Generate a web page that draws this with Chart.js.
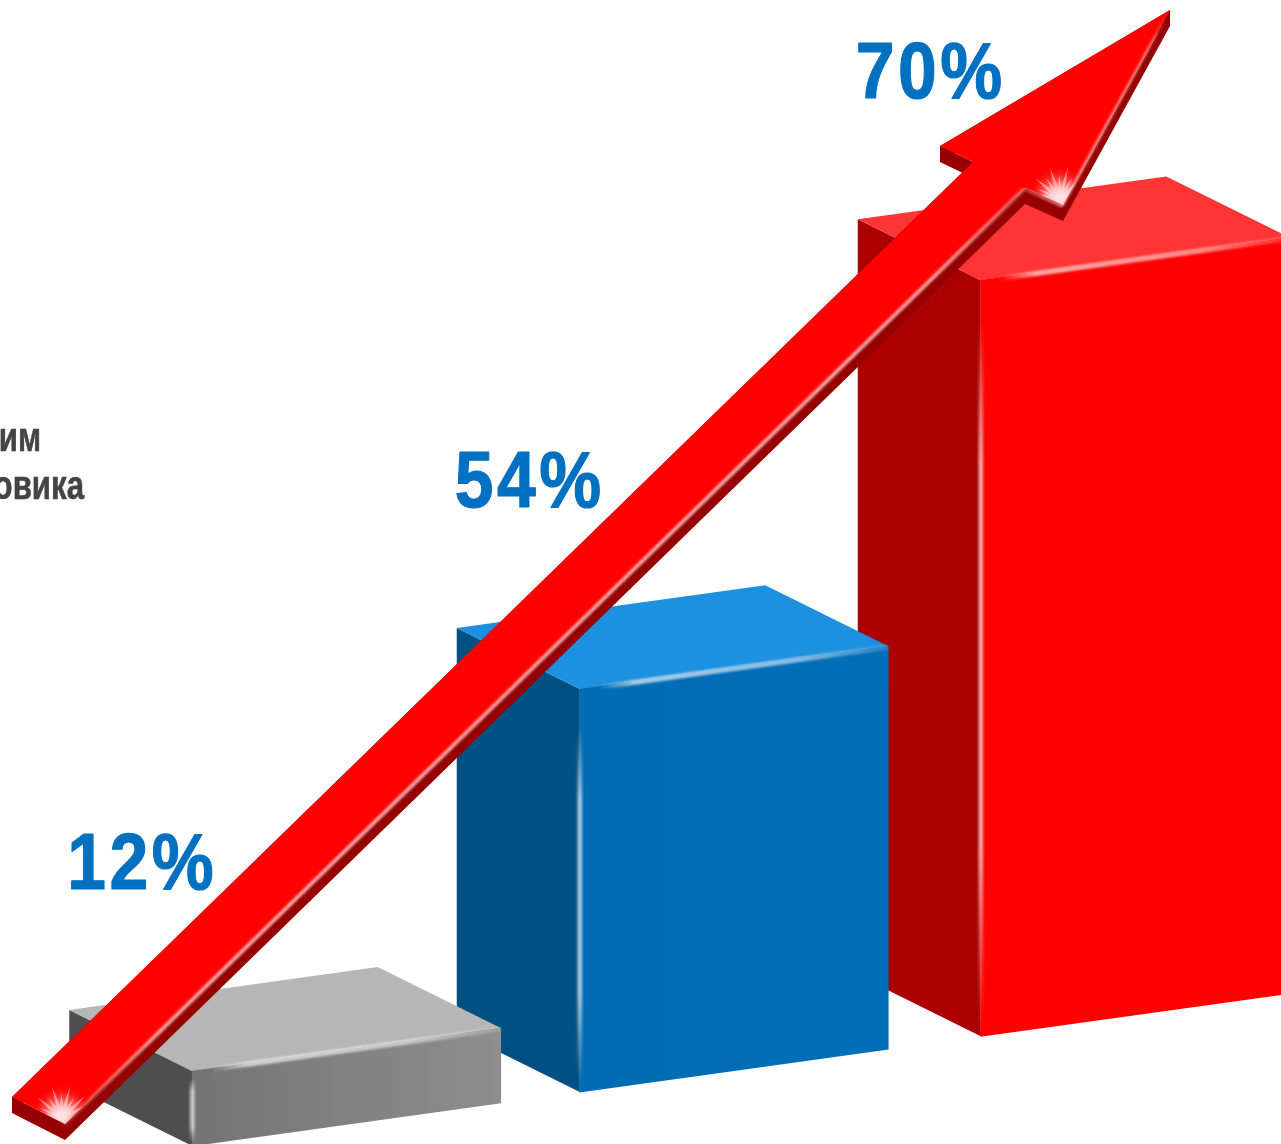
<!DOCTYPE html>
<html><head><meta charset="utf-8">
<style>html,body{margin:0;padding:0;background:#fff;overflow:hidden}canvas{display:block;filter:blur(.5px)}</style>
<script src="https://cdn.jsdelivr.net/npm/chart.js@4"></script>
</head><body><canvas id="c" width="1281" height="1144"></canvas>
<script>
// Data
const percentLabels = ['12%', '54%', '70%'];
const barCenters = [346.5, 734, 1135];
const barHeights = [75, 403, 756];
const noteLines = ['им', 'овика'];
// Arrow outline in axis units
const arrowX = [12, 973, 940, 1170, 1063, 1025, 65];
const arrowY = [47, 982, 998, 1134, 939, 956, 20];

// Styles
const frontColors = [['#747474', '#8e8e8e'], ['#006cb4', '#006eb8'], ['#ff0000', '#ff0000']];
const sideColors = ['#4e4e4e', '#005083', '#aa0000'];
const topColors = ['#b6b6b6', '#1d90e0', '#ff3535'];
const SKEW = -0.139, SKEW_X = 206, DEPTH_X = -123, DEPTH_Y = -61, ARROW_DEPTH = 16;

const scr = (x, y) => [x, y + SKEW * (x - SKEW_X)];
function poly(ctx, pts) { ctx.beginPath(); pts.forEach((p, i) => i ? ctx.lineTo(p[0], p[1]) : ctx.moveTo(p[0], p[1])); ctx.closePath(); }
function glow(ctx, a, b, w, stops, rgb) {
  const g = ctx.createLinearGradient(a[0], a[1], b[0], b[1]);
  stops.forEach(s => g.addColorStop(s[0], `rgba(${rgb},${s[1]})`));
  ctx.save(); ctx.strokeStyle = g; ctx.lineWidth = w; ctx.lineCap = 'butt'; ctx.filter = 'blur(1px)';
  ctx.beginPath(); ctx.moveTo(a[0], a[1]); ctx.lineTo(b[0], b[1]); ctx.stroke(); ctx.restore();
}
function narrowText(ctx, text, x, y, sx, weight, spacing) {
  ctx.save(); ctx.translate(x, y); ctx.scale(sx, 1);
  ctx.letterSpacing = spacing;
  ctx.lineWidth = weight; ctx.lineJoin = 'round'; ctx.strokeStyle = ctx.fillStyle;
  ctx.strokeText(text, 0, 0); ctx.fillText(text, 0, 0); ctx.restore();
}
const depth = p => [p[0] + DEPTH_X, p[1] + DEPTH_Y];

const box3d = {
  id: 'box3d',
  beforeDatasetDraw(chart, args) {
    const ctx = chart.ctx, ds = chart.data.datasets[args.index];
    if (ds.barIndex === undefined) return;
    const el = args.meta.data[0], i = ds.barIndex;
    const L = el.x - el.width / 2, R = el.x + el.width / 2;
    const tl = scr(L, el.y), tr = scr(R, el.y), bl = scr(L, el.base);
    ctx.fillStyle = sideColors[i];
    poly(ctx, [tl, bl, depth(bl), depth(tl)]); ctx.fill();
    ctx.fillStyle = topColors[i];
    poly(ctx, [tl, tr, depth(tr), depth(tl)]); ctx.fill();
    ctx.save();
    ctx.transform(1, SKEW, 0, 1, 0, -SKEW * SKEW_X);
  },
  afterDatasetDraw(chart, args) {
    const ctx = chart.ctx, ds = chart.data.datasets[args.index];
    if (ds.barIndex !== undefined) {
      ctx.restore();
      const el = args.meta.data[0];
      const L = el.x - el.width / 2, R = el.x + el.width / 2;
      const tl = scr(L, el.y), tr = scr(R, el.y), bl = scr(L, el.base);
      glow(ctx, [tl[0], tl[1] + 1], [tr[0], tr[1] + 1], 5,
        [[0, 0], [0.06, 0], [0.18, .65], [0.7, .55], [1, .15]], '255,255,255');
      const h = bl[1] - tl[1];
      glow(ctx, [L, tl[1] + Math.min(h * .1, 40)], [L, bl[1] - Math.min(h * .05, 10)], 5,
        [[0, 0], [0.2, .6], [0.75, .6], [1, 0]], '255,255,255');
      return;
    }
    if (ds.isArrow) drawArrow(ctx, args.meta.data.map(p => [p.x, p.y]));
  },
  afterDatasetsDraw(chart) {
    const ctx = chart.ctx;
    ctx.textBaseline = 'alphabetic';
    chart.data.datasets.forEach((ds, di) => {
      if (ds.barIndex === undefined) return;
      const el = chart.getDatasetMeta(di).data[0];
      const b = depth(scr(el.x - el.width / 2, el.y));
      ctx.fillStyle = '#0070c0';
      ctx.font = 'bold 80px "Liberation Sans",sans-serif';
      ctx.textAlign = 'left';
      narrowText(ctx, percentLabels[ds.barIndex], b[0] - 2, b[1] - 121, 0.87, 1.2, '4px');
    });
    const xs = chart.scales.x, ys = chart.scales.y;
    ctx.fillStyle = '#444444';
    ctx.font = 'bold 40px "Liberation Sans",sans-serif';
    ctx.textAlign = 'right';
    narrowText(ctx, noteLines[0], xs.getPixelForValue(41), ys.getPixelForValue(693), 0.78, 0.6, '0px');
    narrowText(ctx, noteLines[1], xs.getPixelForValue(84), ys.getPixelForValue(645), 0.78, 0.6, '0px');
  }
};

function drawArrow(ctx, pts) {
  const down = p => [p[0], p[1] + ARROW_DEPTH];
  ctx.fillStyle = '#960000';
  pts.forEach((p, i) => {
    const q = pts[(i + 1) % pts.length];
    poly(ctx, [p, q, down(q), down(p)]); ctx.fill();
  });
  poly(ctx, pts); ctx.fillStyle = '#ff0000'; ctx.fill();
  const inset = (p) => [p[0] - 1, p[1] + 1];
  glow(ctx, inset(pts[6]), inset(pts[5]), 4, [[0, .2], [.1, .75], [.9, .75], [1, .4]], '255,205,205');
  glow(ctx, inset(pts[4]), inset(pts[3]), 3, [[0, .7], [.8, .5], [1, 0]], '255,205,205');
  glow(ctx, inset(pts[5]), inset(pts[4]), 3, [[0, .3], [1, .7]], '255,205,205');
  ctx.save(); poly(ctx, pts); ctx.clip();
  [pts[6], pts[4]].forEach((c) => {
    const cx = c[0] - 3, cy = c[1] - 6, r = 34;
    const g = ctx.createRadialGradient(cx, cy, 2, cx, cy, r);
    g.addColorStop(0, 'rgba(255,235,235,.95)');
    g.addColorStop(.4, 'rgba(255,190,190,.65)');
    g.addColorStop(1, 'rgba(255,0,0,0)');
    ctx.fillStyle = g; ctx.fillRect(cx - r, cy - r, r * 2, r * 2);
    ctx.fillStyle = 'rgba(255,225,225,.55)';
    for (let a = -3.0; a < -0.2; a += 0.28) {
      const len = r * (Math.round((a + 3) / 0.28) % 2 ? 0.72 : 0.95);
      poly(ctx, [[cx + 3 * Math.cos(a + 1.57), cy + 3 * Math.sin(a + 1.57)],
                 [cx + len * Math.cos(a), cy + len * Math.sin(a)],
                 [cx - 3 * Math.cos(a + 1.57), cy - 3 * Math.sin(a + 1.57)]]);
      ctx.fill();
    }
  });
  ctx.restore();
}

const frontFill = i => c => {
  const xs = c.chart.scales.x;
  const a = xs ? xs.getPixelForValue(barCenters[i] - 154) : NaN;
  const b = xs ? xs.getPixelForValue(barCenters[i] + 154) : NaN;
  if (!Number.isFinite(a) || !Number.isFinite(b)) return frontColors[i][0];
  const g = c.chart.ctx.createLinearGradient(a, 0, b, 0);
  g.addColorStop(0, frontColors[i][0]); g.addColorStop(1, frontColors[i][1]);
  return g;
};

const barSets = percentLabels.map((label, i) => ({
  type: 'bar', label, barIndex: i, order: i + 1, clip: false, grouped: false,
  barThickness: 308.5, borderWidth: 0,
  backgroundColor: frontFill(i),
  data: [{ x: barCenters[i], y: barHeights[i] }]
}));

new Chart(document.getElementById('c'), {
  data: {
    datasets: [...barSets, {
      type: 'scatter', label: 'arrow', isArrow: true, order: 0, clip: false,
      pointRadius: 0, showLine: false,
      data: arrowX.map((x, i) => ({ x, y: arrowY[i] }))
    }]
  },
  options: {
    responsive: false, animation: false, devicePixelRatio: 1,
    layout: { padding: 0 },
    plugins: { legend: { display: false }, tooltip: { enabled: false }, title: { display: false } },
    scales: {
      x: { type: 'linear', min: 0, max: 1281, display: false, offset: false },
      y: { type: 'linear', min: 0, max: 1144, display: false }
    }
  },
  plugins: [box3d]
});
</script></body></html>
